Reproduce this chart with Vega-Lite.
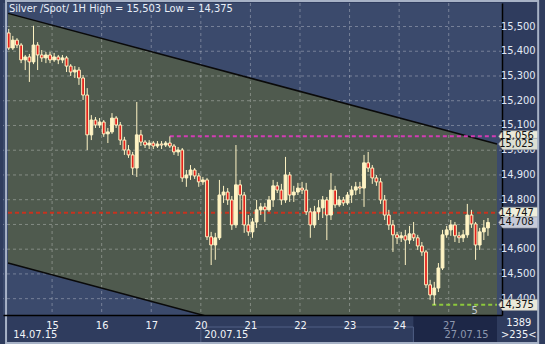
{
"$schema": "https://vega.github.io/schema/vega-lite/v6.json",
"width": 499, "height": 312,
"autosize": {"type": "none"},
"padding": {"left": 3, "top": 3, "right": 43, "bottom": 29},
"background": "#2f3c5e",
"config": {
  "view": {"fill": "#3b4a6c", "stroke": null},
  "locale": {"number": {"decimal": ",", "thousands": ".", "grouping": [3], "currency": ["", ""]}},
  "font": "Liberation Sans Narrow, DejaVu Sans Condensed, Liberation Sans, sans-serif",
  "text": {"font": "Liberation Sans Narrow, DejaVu Sans Condensed, Liberation Sans, sans-serif"}
},
"datasets": {
  "chan": [{"t": 2.657, "up": 15.553, "lo": 14.544}, {"t": 239.37, "up": 15.025, "lo": 14.015}],
  "gy": [{"v": 14.4}, {"v": 14.5}, {"v": 14.6}, {"v": 14.7}, {"v": 14.8}, {"v": 14.9}, {"v": 15.0}, {"v": 15.1}, {"v": 15.2}, {"v": 15.3}, {"v": 15.4}, {"v": 15.5}],
  "gx": [{"v": 24}, {"v": 48}, {"v": 72}, {"v": 96}, {"v": 120}, {"v": 144}, {"v": 168}, {"v": 192}, {"v": 216}],
  "lev": [{"k": "hi", "p": 15.056, "t1": 81, "t2": 239.37}, {"k": "open", "p": 14.747, "t1": 2.657, "t2": 239.37}, {"k": "low", "p": 14.375, "t1": 208, "t2": 239.37}],
  "box": [{"k": "a", "p": 15.056, "s": "15,056"}, {"k": "b", "p": 15.025, "s": "15,025"}, {"k": "c", "p": 14.747, "s": "14,747"}, {"k": "d", "p": 14.708, "s": "14,708"}, {"k": "e", "p": 14.375, "s": "14,375"}],
  "c": [
{"t":3,"o":15.474,"h":15.490,"l":15.405,"c":15.413},
{"t":5,"o":15.413,"h":15.462,"l":15.405,"c":15.445},
{"t":7,"o":15.445,"h":15.453,"l":15.413,"c":15.425},
{"t":9,"o":15.425,"h":15.433,"l":15.352,"c":15.365},
{"t":11,"o":15.365,"h":15.385,"l":15.324,"c":15.377},
{"t":13,"o":15.377,"h":15.389,"l":15.276,"c":15.357},
{"t":15,"o":15.357,"h":15.503,"l":15.348,"c":15.425},
{"t":17,"o":15.425,"h":15.437,"l":15.324,"c":15.385},
{"t":19,"o":15.385,"h":15.405,"l":15.357,"c":15.373},
{"t":21,"o":15.373,"h":15.397,"l":15.352,"c":15.385},
{"t":23,"o":15.385,"h":15.397,"l":15.352,"c":15.365},
{"t":25,"o":15.365,"h":15.393,"l":15.357,"c":15.377},
{"t":27,"o":15.377,"h":15.385,"l":15.348,"c":15.365},
{"t":29,"o":15.365,"h":15.385,"l":15.352,"c":15.373},
{"t":31,"o":15.373,"h":15.381,"l":15.316,"c":15.340},
{"t":33,"o":15.340,"h":15.348,"l":15.300,"c":15.316},
{"t":35,"o":15.316,"h":15.340,"l":15.292,"c":15.324},
{"t":37,"o":15.324,"h":15.336,"l":15.264,"c":15.292},
{"t":39,"o":15.292,"h":15.304,"l":15.203,"c":15.223},
{"t":41,"o":15.223,"h":15.251,"l":15.001,"c":15.062},
{"t":43,"o":15.062,"h":15.142,"l":15.041,"c":15.122},
{"t":45,"o":15.122,"h":15.134,"l":15.090,"c":15.102},
{"t":47,"o":15.102,"h":15.130,"l":15.090,"c":15.114},
{"t":49,"o":15.114,"h":15.122,"l":15.054,"c":15.066},
{"t":51,"o":15.066,"h":15.090,"l":15.029,"c":15.074},
{"t":53,"o":15.074,"h":15.150,"l":15.066,"c":15.130},
{"t":55,"o":15.130,"h":15.138,"l":15.090,"c":15.102},
{"t":57,"o":15.102,"h":15.114,"l":15.021,"c":15.041},
{"t":59,"o":15.041,"h":15.054,"l":14.981,"c":15.001},
{"t":61,"o":15.001,"h":15.021,"l":14.969,"c":14.981},
{"t":63,"o":14.981,"h":14.993,"l":14.900,"c":14.928},
{"t":65,"o":14.928,"h":15.195,"l":14.892,"c":15.062},
{"t":67,"o":15.062,"h":15.082,"l":15.017,"c":15.033},
{"t":69,"o":15.033,"h":15.041,"l":15.009,"c":15.021},
{"t":71,"o":15.021,"h":15.041,"l":15.005,"c":15.029},
{"t":73,"o":15.029,"h":15.037,"l":15.005,"c":15.017},
{"t":75,"o":15.017,"h":15.037,"l":15.009,"c":15.025},
{"t":77,"o":15.025,"h":15.037,"l":15.005,"c":15.021},
{"t":79,"o":15.021,"h":15.037,"l":15.013,"c":15.029},
{"t":81,"o":15.029,"h":15.056,"l":15.009,"c":15.017},
{"t":83,"o":15.017,"h":15.025,"l":14.981,"c":14.993},
{"t":85,"o":14.993,"h":15.013,"l":14.977,"c":15.001},
{"t":87,"o":15.001,"h":15.009,"l":14.872,"c":14.888},
{"t":89,"o":14.888,"h":14.920,"l":14.852,"c":14.900},
{"t":91,"o":14.900,"h":14.940,"l":14.880,"c":14.920},
{"t":93,"o":14.920,"h":14.928,"l":14.884,"c":14.896},
{"t":95,"o":14.896,"h":14.908,"l":14.852,"c":14.872},
{"t":97,"o":14.872,"h":14.892,"l":14.860,"c":14.880},
{"t":99,"o":14.880,"h":14.888,"l":14.637,"c":14.650},
{"t":101,"o":14.650,"h":14.670,"l":14.536,"c":14.617},
{"t":103,"o":14.617,"h":14.666,"l":14.557,"c":14.646},
{"t":105,"o":14.646,"h":14.880,"l":14.637,"c":14.819},
{"t":107,"o":14.819,"h":14.856,"l":14.787,"c":14.831},
{"t":109,"o":14.831,"h":14.847,"l":14.779,"c":14.799},
{"t":111,"o":14.799,"h":14.815,"l":14.678,"c":14.698},
{"t":113,"o":14.698,"h":15.021,"l":14.686,"c":14.860},
{"t":115,"o":14.860,"h":14.880,"l":14.759,"c":14.819},
{"t":117,"o":14.819,"h":14.831,"l":14.666,"c":14.698},
{"t":119,"o":14.698,"h":14.738,"l":14.654,"c":14.670},
{"t":121,"o":14.670,"h":14.726,"l":14.646,"c":14.710},
{"t":123,"o":14.710,"h":14.799,"l":14.686,"c":14.759},
{"t":125,"o":14.759,"h":14.787,"l":14.738,"c":14.771},
{"t":127,"o":14.771,"h":14.787,"l":14.710,"c":14.759},
{"t":129,"o":14.759,"h":14.815,"l":14.751,"c":14.799},
{"t":131,"o":14.799,"h":14.880,"l":14.771,"c":14.856},
{"t":133,"o":14.856,"h":14.872,"l":14.827,"c":14.839},
{"t":135,"o":14.839,"h":14.864,"l":14.779,"c":14.799},
{"t":137,"o":14.799,"h":14.973,"l":14.787,"c":14.900},
{"t":139,"o":14.900,"h":14.912,"l":14.791,"c":14.819},
{"t":141,"o":14.819,"h":14.856,"l":14.791,"c":14.831},
{"t":143,"o":14.831,"h":14.868,"l":14.819,"c":14.847},
{"t":145,"o":14.847,"h":14.872,"l":14.823,"c":14.839},
{"t":147,"o":14.839,"h":14.868,"l":14.738,"c":14.751},
{"t":149,"o":14.751,"h":14.767,"l":14.646,"c":14.698},
{"t":151,"o":14.698,"h":14.775,"l":14.686,"c":14.751},
{"t":153,"o":14.751,"h":14.799,"l":14.718,"c":14.767},
{"t":155,"o":14.767,"h":14.815,"l":14.726,"c":14.799},
{"t":157,"o":14.799,"h":14.811,"l":14.637,"c":14.738},
{"t":159,"o":14.738,"h":14.908,"l":14.718,"c":14.839},
{"t":161,"o":14.839,"h":14.856,"l":14.767,"c":14.779},
{"t":163,"o":14.779,"h":14.815,"l":14.771,"c":14.799},
{"t":165,"o":14.799,"h":14.811,"l":14.775,"c":14.787},
{"t":167,"o":14.787,"h":14.831,"l":14.779,"c":14.819},
{"t":169,"o":14.819,"h":14.856,"l":14.787,"c":14.839},
{"t":171,"o":14.839,"h":14.872,"l":14.819,"c":14.852},
{"t":173,"o":14.852,"h":14.872,"l":14.823,"c":14.847},
{"t":175,"o":14.847,"h":14.981,"l":14.771,"c":14.949},
{"t":177,"o":14.949,"h":14.993,"l":14.912,"c":14.928},
{"t":179,"o":14.928,"h":14.940,"l":14.864,"c":14.888},
{"t":181,"o":14.888,"h":14.900,"l":14.856,"c":14.872},
{"t":183,"o":14.872,"h":14.888,"l":14.783,"c":14.799},
{"t":185,"o":14.799,"h":14.819,"l":14.718,"c":14.738},
{"t":187,"o":14.738,"h":14.759,"l":14.678,"c":14.698},
{"t":189,"o":14.698,"h":14.718,"l":14.589,"c":14.658},
{"t":191,"o":14.658,"h":14.670,"l":14.621,"c":14.646},
{"t":193,"o":14.646,"h":14.670,"l":14.629,"c":14.654},
{"t":195,"o":14.654,"h":14.678,"l":14.536,"c":14.637},
{"t":197,"o":14.637,"h":14.694,"l":14.621,"c":14.662},
{"t":199,"o":14.662,"h":14.710,"l":14.633,"c":14.646},
{"t":201,"o":14.646,"h":14.658,"l":14.597,"c":14.613},
{"t":203,"o":14.613,"h":14.629,"l":14.573,"c":14.589},
{"t":205,"o":14.589,"h":14.597,"l":14.443,"c":14.456},
{"t":207,"o":14.456,"h":14.476,"l":14.395,"c":14.415},
{"t":209,"o":14.415,"h":14.468,"l":14.375,"c":14.443},
{"t":211,"o":14.443,"h":14.544,"l":14.427,"c":14.524},
{"t":213,"o":14.524,"h":14.678,"l":14.516,"c":14.658},
{"t":215,"o":14.658,"h":14.694,"l":14.646,"c":14.678},
{"t":217,"o":14.678,"h":14.718,"l":14.654,"c":14.698},
{"t":219,"o":14.698,"h":14.710,"l":14.629,"c":14.654},
{"t":221,"o":14.654,"h":14.670,"l":14.625,"c":14.646},
{"t":223,"o":14.646,"h":14.678,"l":14.629,"c":14.658},
{"t":225,"o":14.658,"h":14.783,"l":14.646,"c":14.738},
{"t":227,"o":14.738,"h":14.759,"l":14.686,"c":14.702},
{"t":229,"o":14.702,"h":14.710,"l":14.557,"c":14.617},
{"t":231,"o":14.617,"h":14.686,"l":14.597,"c":14.670},
{"t":233,"o":14.670,"h":14.718,"l":14.637,"c":14.686},
{"t":235,"o":14.686,"h":14.726,"l":14.654,"c":14.708}
  ]
},
"layer": [
  {"data": {"name": "chan"},
   "mark": {"type": "area", "orient": "vertical", "clip": true, "color": "#4f5a4e"},
   "encoding": {
     "x": {"field": "t", "type": "quantitative",
           "scale": {"domain": [2.657, 239.37], "nice": false, "zero": false},
           "axis": {"orient": "bottom", "title": null, "values": [24, 48, 72, 96, 120, 144, 168, 192, 216],
                    "labelExpr": "['14','15','16','17','20','21','22','23','24','27'][round(datum.value/24)]",
                    "grid": false, "ticks": false, "domainColor": "#000000", "domainWidth": 1.5,
                    "labelColor": {"condition": {"test": "datum.value == 216", "value": "#8d97ae"}, "value": "#f2f4f8"},
                    "labelFontSize": 11, "labelPadding": 4, "labelFlush": false, "labelOverlap": false, "zindex": 1}},
     "y": {"field": "up", "type": "quantitative",
           "scale": {"domain": [14.334, 15.595], "nice": false, "zero": false},
           "axis": {"orient": "right", "title": null, "labels": false, "grid": false, "ticks": false,
                    "domainColor": "#000000", "domainWidth": 1.5, "zindex": 0}},
     "y2": {"field": "lo"}
   }},
  {"data": {"name": "gy"},
   "mark": {"type": "rule", "color": "#ffffff", "opacity": 0.3, "strokeDash": [3, 3], "strokeWidth": 1},
   "encoding": {"y": {"field": "v", "type": "quantitative"}}},
  {"data": {"name": "gx"},
   "mark": {"type": "rule", "color": "#ffffff", "opacity": 0.3, "strokeDash": [3, 3], "strokeWidth": 1},
   "encoding": {"x": {"field": "v", "type": "quantitative"}}},
  {"data": {"name": "chan"},
   "mark": {"type": "line", "clip": true, "color": "#0a0a0a", "strokeWidth": 1.5},
   "encoding": {"x": {"field": "t", "type": "quantitative"}, "y": {"field": "up", "type": "quantitative"}}},
  {"data": {"name": "chan"},
   "mark": {"type": "line", "clip": true, "color": "#0a0a0a", "strokeWidth": 1.5},
   "encoding": {"x": {"field": "t", "type": "quantitative"}, "y": {"field": "lo", "type": "quantitative"}}},
  {"data": {"name": "lev"},
   "mark": {"type": "rule", "strokeDash": [4, 3], "strokeWidth": 2},
   "encoding": {"x": {"field": "t1", "type": "quantitative"}, "x2": {"field": "t2"},
                "y": {"field": "p", "type": "quantitative"},
                "color": {"field": "k", "type": "nominal", "scale": {"domain": ["hi", "open", "low"], "range": ["#d23cb4", "#c8321e", "#8cc83c"]}, "legend": null}}},
  {"data": {"name": "c"},
   "mark": {"type": "rule", "color": "#fff4c4", "strokeWidth": 1},
   "encoding": {"x": {"field": "t", "type": "quantitative"}, "y": {"field": "l", "type": "quantitative"}, "y2": {"field": "h"}}},
  {"data": {"name": "c"},
   "mark": {"type": "bar", "width": 2.8, "stroke": "#fff4c4", "strokeWidth": 1},
   "encoding": {"x": {"field": "t", "type": "quantitative"}, "y": {"field": "o", "type": "quantitative"}, "y2": {"field": "c"},
                "fill": {"condition": {"test": "datum.c < datum.o", "value": "#e4221c"}, "value": "#fff4c4"}}},
  {"data": {"values": [{}]},
   "mark": {"type": "rect", "color": "#1d2747"},
   "encoding": {"x": {"datum": 198.9, "type": "quantitative"}, "x2": {"datum": 239.37},
                "y": {"datum": 14.334, "type": "quantitative"}, "y2": {"datum": 14.2}}},
  {"data": {"values": [{}]},
   "mark": {"type": "rect", "fill": null, "fillOpacity": 0, "stroke": "#505e84", "strokeWidth": 1},
   "encoding": {"x": {"datum": 96, "type": "quantitative"}, "x2": {"datum": 198.9},
                "y": {"datum": 14.2855, "type": "quantitative"}, "y2": {"datum": 14.2}}},
  {"data": {"name": "gy"},
   "mark": {"type": "text", "align": "left", "baseline": "middle", "fontSize": 11, "color": "#e2eaf6"},
   "encoding": {"x": {"datum": 241.27, "type": "quantitative"}, "y": {"field": "v", "type": "quantitative"},
                "text": {"field": "v", "type": "quantitative", "format": ",.3f"}}},
  {"data": {"name": "box"},
   "mark": {"type": "point", "shape": "M-1,0L-0.8,-0.28L1,-0.28L1,0.28L-0.8,0.28Z", "size": 1600, "filled": true, "opacity": 1, "stroke": "#8c8f96", "strokeWidth": 0.6},
   "encoding": {"x": {"datum": 249.81, "type": "quantitative"}, "y": {"field": "p", "type": "quantitative"},
                "fill": {"field": "k", "type": "nominal", "scale": {"domain": ["a", "b", "c", "d", "e"], "range": ["#ebeada", "#dcdfd4", "#efeedc", "#c6cad8", "#e9e9da"]}, "legend": null}}},
  {"data": {"name": "box"},
   "mark": {"type": "text", "align": "center", "baseline": "middle", "dx": -2, "fontSize": 11, "color": "#111111"},
   "encoding": {"x": {"datum": 249.81, "type": "quantitative"}, "y": {"field": "p", "type": "quantitative"}, "text": {"field": "s"}}},
  {"data": {"values": [{}]},
   "mark": {"type": "text", "align": "left", "baseline": "top", "dx": 1, "fontSize": 11, "color": "#e8eef8", "text": "Silver /Spot/  1H High = 15,503 Low = 14,375"},
   "encoding": {"x": {"datum": 2.657, "type": "quantitative"}, "y": {"datum": 15.595, "type": "quantitative"}}},
  {"data": {"values": [{}]},
   "mark": {"type": "text", "align": "left", "baseline": "alphabetic", "fontSize": 11, "color": "#f2f4f8", "text": "14.07.15"},
   "encoding": {"x": {"datum": 5.17, "type": "quantitative"}, "y": {"datum": 14.241, "type": "quantitative"}}},
  {"data": {"values": [{}]},
   "mark": {"type": "text", "align": "left", "baseline": "alphabetic", "fontSize": 11, "color": "#f2f4f8", "text": "20.07.15"},
   "encoding": {"x": {"datum": 97.68, "type": "quantitative"}, "y": {"datum": 14.241, "type": "quantitative"}}},
  {"data": {"values": [{}]},
   "mark": {"type": "text", "align": "right", "baseline": "alphabetic", "fontSize": 11, "color": "#8d97ae", "text": "27.07.15"},
   "encoding": {"x": {"datum": 235.3, "type": "quantitative"}, "y": {"datum": 14.241, "type": "quantitative"}}},
  {"data": {"values": [{}]},
   "mark": {"type": "text", "align": "center", "baseline": "alphabetic", "fontSize": 11, "color": "#f2f4f8", "text": "1389"},
   "encoding": {"x": {"datum": 249.9, "type": "quantitative"}, "y": {"datum": 14.2895, "type": "quantitative"}}},
  {"data": {"values": [{}]},
   "mark": {"type": "text", "align": "center", "baseline": "alphabetic", "fontSize": 11, "color": "#f2f4f8", "text": ">235<"},
   "encoding": {"x": {"datum": 249.9, "type": "quantitative"}, "y": {"datum": 14.241, "type": "quantitative"}}},
  {"data": {"values": [{}]},
   "mark": {"type": "text", "align": "center", "baseline": "alphabetic", "fontSize": 11, "color": "#c4ccd4", "text": "5"},
   "encoding": {"x": {"datum": 228.6, "type": "quantitative"}, "y": {"datum": 14.338, "type": "quantitative"}}},
  {"data": {"values": [{}]},
   "mark": {"type": "rect", "fill": null, "fillOpacity": 0, "stroke": "#a7b2c6", "strokeWidth": 2},
   "encoding": {"x": {"datum": 1.708, "type": "quantitative"}, "x2": {"datum": 259.3},
                "y": {"datum": 15.603, "type": "quantitative"}, "y2": {"datum": 14.2208}}}
]
}
